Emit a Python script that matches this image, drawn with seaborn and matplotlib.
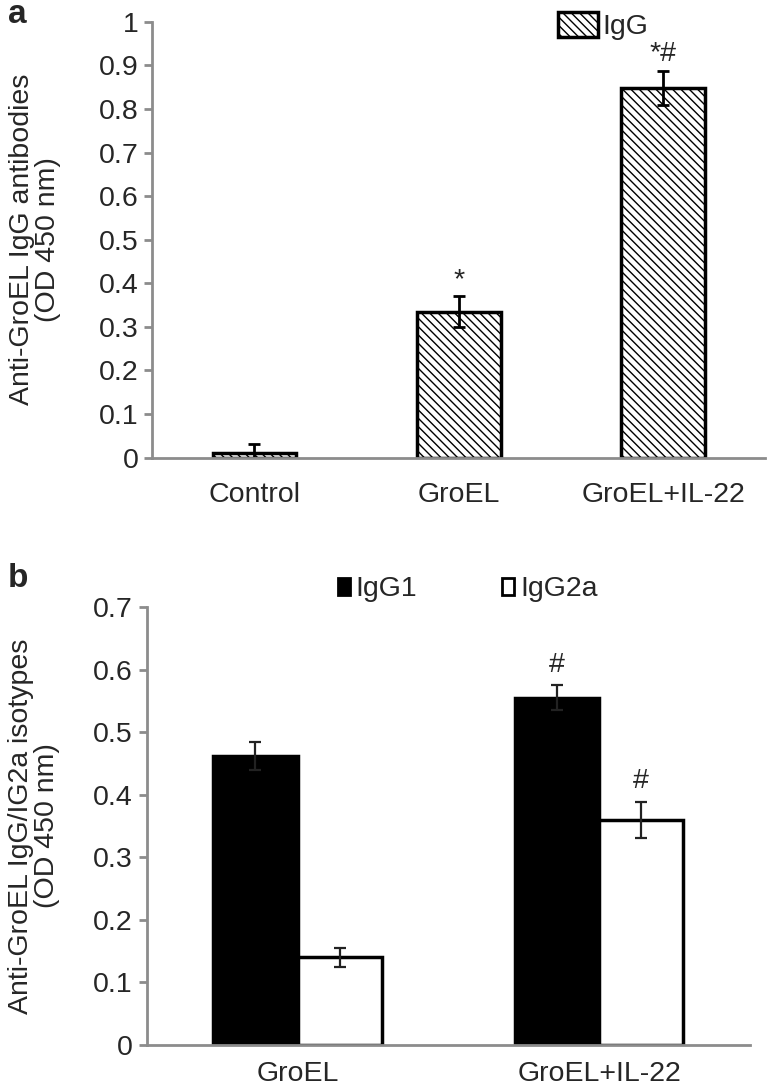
import pandas as pd
import seaborn as sns
import matplotlib.pyplot as plt
import numpy as np

# %% data
groups_a = ['Control', 'GroEL', 'GroEL+IL-22']
igg = [0.01, 0.335, 0.848]
igg_err = [0.022, 0.035, 0.04]
marks_a = ['', '*', '*#']

groups_b = ['GroEL', 'GroEL+IL-22']
isotypes = ['IgG1', 'IgG2a']
igg1 = [0.462, 0.555]
igg1_err = [0.023, 0.02]
igg2a = [0.14, 0.36]
igg2a_err = [0.015, 0.029]
marks_b1 = ['', '#']
marks_b2 = ['', '#']

# %%
sns.set_style('white')
plt.rcParams['font.family'] = ['Liberation Sans', 'DejaVu Sans']
plt.rcParams['hatch.linewidth'] = 1.0
plt.rcParams['hatch.color'] = '#444444'

fig = plt.figure(figsize=(7.69, 10.87), dpi=100)
ax1 = fig.add_axes([0.198, 0.579, 0.797, 0.401])
ax2 = fig.add_axes([0.191, 0.0386, 0.784, 0.403])

grey = '#8c8c8c'
fs = 20.5

# %% panel a
da = pd.DataFrame({'group': groups_a, 'val': igg})
sns.barplot(data=da, x='group', y='val', color='white', width=0.41,
            edgecolor='black', linewidth=2.5, errorbar=None, ax=ax1,
            label='IgG')
for p in ax1.patches:
    p.set_hatch('\\\\\\\\')
xs = [p.get_x() + p.get_width() / 2 for p in ax1.patches]
ax1.errorbar(xs, igg, yerr=igg_err, fmt='none', ecolor='black',
             elinewidth=2, capsize=4, capthick=2)
for x, v, e, m in zip(xs, igg, igg_err, marks_a):
    if m:
        ax1.text(x, v + e + 0.008, m, ha='center', va='bottom', fontsize=fs)
ax1.set_ylim(0, 1)
ax1.set_xlim(-0.5, 2.5)
ax1.set_yticks(np.arange(0, 1.01, 0.1))
ax1.set_yticklabels(['0'] + ['%.1f' % t for t in np.arange(0.1, 0.95, 0.1)] + ['1'])
ax1.set_xlabel('')
ax1.set_ylabel('Anti-GroEL IgG antibodies\n(OD 450 nm)', fontsize=fs,
               labelpad=27, linespacing=1.0)
ax1.legend(loc='upper left', bbox_to_anchor=(0.639, 1.055), frameon=False,
           fontsize=fs, handlelength=1.4, handleheight=0.95,
           handletextpad=0.15, borderpad=0)

# %% panel b
db = pd.DataFrame({'group': groups_b * 2,
                   'iso': [isotypes[0]] * 2 + [isotypes[1]] * 2,
                   'val': igg1 + igg2a})
sns.barplot(data=db, x='group', y='val', hue='iso', palette=['black', 'white'],
            width=0.56, gap=0, edgecolor='black', linewidth=2.5,
            errorbar=None, ax=ax2, saturation=1)
bars = [p for p in ax2.patches if p.get_height() > 0][:4]
xb = [p.get_x() + p.get_width() / 2 for p in bars]
vals = igg1 + igg2a
errs = igg1_err + igg2a_err
marks = marks_b1 + marks_b2
ax2.errorbar(xb, vals, yerr=errs, fmt='none', ecolor='#222222',
             elinewidth=1.6, capsize=4, capthick=1.6)
for x, v, e, m in zip(xb, vals, errs, marks):
    if m:
        ax2.text(x, v + e + 0.012, m, ha='center', va='bottom', fontsize=fs)
ax2.set_ylim(0, 0.7)
ax2.set_xlim(-0.5, 1.5)
ax2.set_yticks(np.arange(0, 0.71, 0.1))
ax2.set_yticklabels(['0'] + ['%.1f' % t for t in np.arange(0.1, 0.75, 0.1)])
ax2.set_xlabel('')
ax2.set_ylabel('Anti-GroEL IgG/IG2a isotypes\n(OD 450 nm)', fontsize=fs,
               labelpad=24, linespacing=1.0)
leg = ax2.legend(loc='center left', bbox_to_anchor=(0.293, 1.04), frameon=False,
                 ncol=2, fontsize=fs, handlelength=0.42, handleheight=0.55,
                 handletextpad=0.2, columnspacing=3.0, borderpad=0)
for h in leg.legend_handles:
    h.set_linewidth(2)

# %% axes styling
for ax in (ax1, ax2):
    sns.despine(ax=ax)
    ax.spines['left'].set_color(grey)
    ax.spines['bottom'].set_color(grey)
    ax.spines['left'].set_linewidth(2)
    ax.spines['bottom'].set_linewidth(2)
    ax.tick_params(axis='y', left=True, length=6, width=2, color=grey,
                   labelsize=fs, pad=4)
    ax.tick_params(axis='x', bottom=False, labelsize=fs, pad=14)
ax2.tick_params(axis='x', pad=8)

fig.text(0.010, 0.987, 'a', fontsize=24, fontweight='bold', va='center')
fig.text(0.010, 0.468, 'b', fontsize=24, fontweight='bold', va='center')

fig.savefig('out.png', dpi=100)
